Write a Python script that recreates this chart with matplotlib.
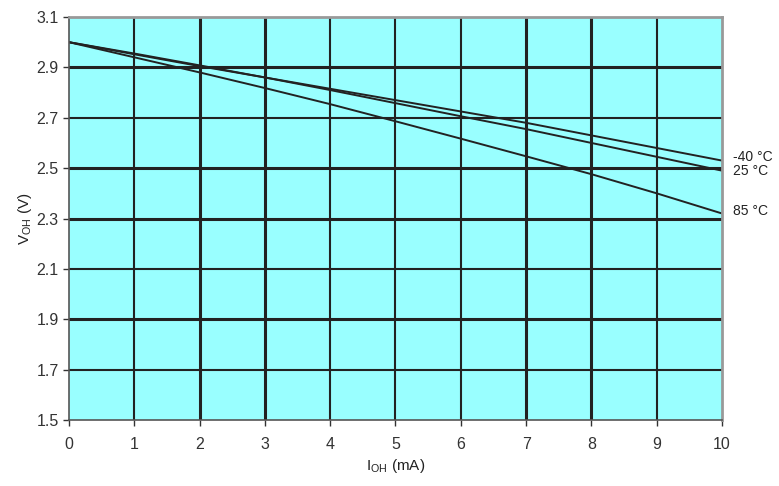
import matplotlib
matplotlib.use("Agg")
import matplotlib.pyplot as plt

plt.rcParams["font.family"] = ["Liberation Sans", "DejaVu Sans"]

# output current (mA) and high-level output voltage (V) per temperature
i_oh = [0, 1, 2, 3, 4, 5, 6, 7, 8, 9, 10]
v_m40 = [3.0, 2.952, 2.905, 2.86, 2.815, 2.77, 2.725, 2.68, 2.63, 2.58, 2.53]
v_25 = [3.0, 2.955, 2.908, 2.86, 2.81, 2.758, 2.706, 2.655, 2.6, 2.545, 2.49]
v_85 = [3.0, 2.94, 2.88, 2.818, 2.754, 2.686, 2.617, 2.547, 2.476, 2.40, 2.32]
labels = ["-40 °C", "25 °C", "85 °C"]
label_y = [2.545, 2.487, 2.33]

x_ticks = list(range(0, 11))
y_ticks = [1.5, 1.7, 1.9, 2.1, 2.3, 2.5, 2.7, 2.9, 3.1]
thick_x = [2, 3, 7, 8]
thick_y = [1.9, 2.3, 2.5, 2.9]

fig = plt.figure(figsize=(7.79, 4.86), dpi=100)
ax = fig.add_axes([0.0886, 0.1358, 0.8382, 0.8292])
ax.set_facecolor("#99ffff")

for x in x_ticks[1:-1]:
    ax.axvline(x, color="#222222", lw=2.2 if x in thick_x else 1.5, zorder=1)
for y in y_ticks[1:-1]:
    ax.axhline(y, color="#222222", lw=2.2 if y in thick_y else 1.5, zorder=1)

for v in (v_m40, v_25, v_85):
    ax.plot(i_oh, v, color="#222222", lw=1.4, zorder=2)

for lab, y in zip(labels, label_y):
    ax.text(10.17, y, lab, fontsize=10, color="#222222", va="center", ha="left")

ax.set_xlim(0, 10)
ax.set_ylim(1.5, 3.1)
ax.set_xticks(x_ticks)
ax.set_yticks(y_ticks)
ax.set_yticklabels([f"{y:.1f}" for y in y_ticks])
ax.tick_params(direction="out", length=4, width=1, colors="#333333", labelsize=11.5)
ax.tick_params(axis="x", pad=8)

for side in ("left", "bottom"):
    ax.spines[side].set_color("#555555")
    ax.spines[side].set_linewidth(1.2)
for side in ("top", "right"):
    ax.spines[side].set_color("#999999")
    ax.spines[side].set_linewidth(2)

ax.set_xlabel(r"I$_{\mathregular{OH}}$ (mA)", fontsize=11, color="#222222", labelpad=4)
ax.set_ylabel(r"V$_{\mathregular{OH}}$ (V)", fontsize=11, color="#222222", labelpad=2)

fig.savefig("out.png", dpi=100)
